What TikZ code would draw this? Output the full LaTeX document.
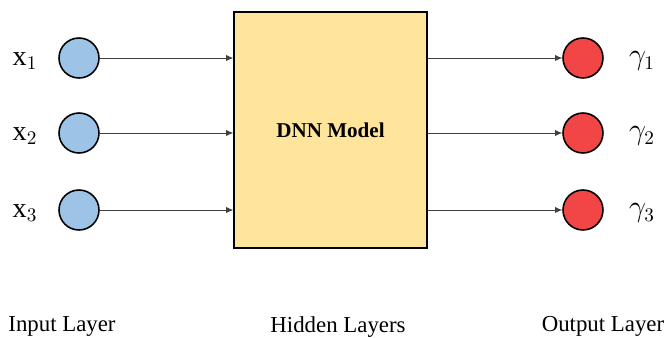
\documentclass[tikz,border=0pt]{standalone}
\usepackage{fontspec}
\setmainfont{Liberation Serif}
\usetikzlibrary{positioning, arrows.meta}
\definecolor{inblue}{HTML}{9DC3E6}
\definecolor{outred}{HTML}{F24646}
\definecolor{boxyellow}{HTML}{FFE49C}
\tikzset{
	x=0.02cm, y=-0.02cm,
	line width=.75pt,
	in vertex/.style={
		draw,
		circle,
		fill=inblue,
		line width=.9pt,
		minimum size=0.8cm,
		inner sep=0pt
	},
	out vertex/.style={
		in vertex,
		fill=outred
	},
	model/.style={
		draw,
		fill=boxyellow,
		line width=.9pt,
		minimum width=3.86cm,
		minimum height=4.72cm,
		font=\bfseries\fontsize{12}{14}\selectfont
	},
	edge/.style={
		-{Latex[length=4pt,width=3.5pt]},
		line width=.45pt,
		draw=black!75
	},
	varlabel/.style={font=\fontsize{16}{18}\selectfont},
	layerlabel/.style={font=\fontsize{13}{15}\selectfont}
}

\begin{document}
\begin{tikzpicture}
	\useasboundingbox (0,0) rectangle (666,338);

	\node[model] (dnn) at (330.5,130) {DNN Model};

	\foreach \i/\y in {1/58,2/133,3/210} {
		\node[in vertex] (in\i) at (79,\y) {};
		\node[varlabel] (x\i) at (25,\y+3) {$\mathrm{x}_\i$};
		\node[out vertex] (out\i) at (583,\y) {};
		\node[varlabel] (g\i) at (642,\y+3) {$\gamma_\i$};

		\draw[edge] (in\i) -- (in\i -| dnn.west);
		\draw[edge] (out\i -| dnn.east) -- (out\i);
	}

	\node[layerlabel] (inlayer) at (62,326) {Input Layer};
	\node[layerlabel] (hidlayer) at (338,327) {Hidden Layers};
	\node[layerlabel] (outlayer) at (603,326) {Output Layer};
\end{tikzpicture}
\end{document}
